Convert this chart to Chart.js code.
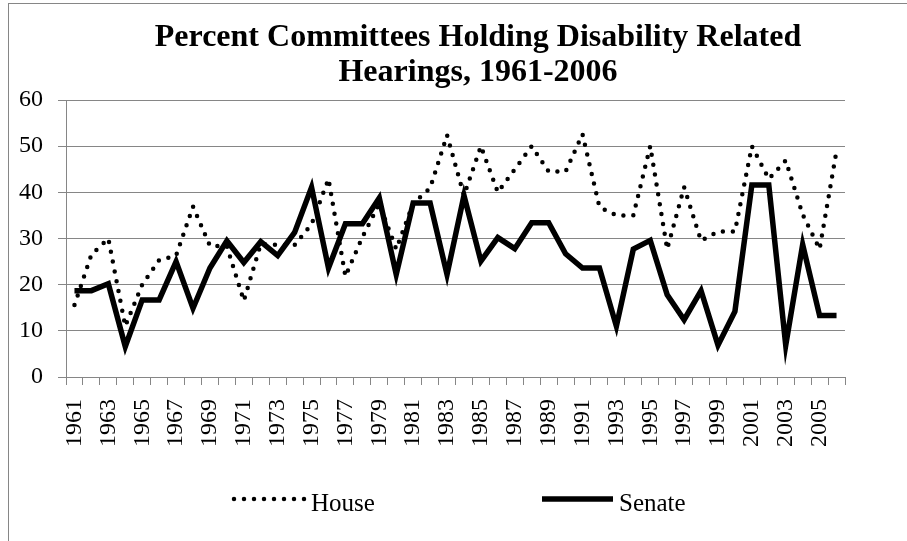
<!DOCTYPE html>
<html>
<head>
<meta charset="utf-8">
<script src="https://cdn.jsdelivr.net/npm/chart.js@4.4.1/dist/chart.umd.min.js"></script>
<style>
  body { margin: 0; background: #fff; }
</style>
</head>
<body>
<canvas id="hearingsChart" width="907" height="541"></canvas>
<script>
// data
var years = ['1961', '1962', '1963', '1964', '1965', '1966', '1967', '1968', '1969', '1970',
             '1971', '1972', '1973', '1974', '1975', '1976', '1977', '1978', '1979', '1980',
             '1981', '1982', '1983', '1984', '1985', '1986', '1987', '1988', '1989', '1990',
             '1991', '1992', '1993', '1994', '1995', '1996', '1997', '1998', '1999', '2000',
             '2001', '2002', '2003', '2004', '2005', '2006'];

var house = [15.6, 26.5, 30, 11, 20, 25.3, 26.3, 36.9, 28.4, 28.3,
             16.5, 28.8, 28.6, 28.6, 33.1, 42.9, 21.8, 30.3, 37.5, 27.7,
             37.6, 40.9, 52.4, 39.3, 50, 40, 45, 50, 44.5, 44.5,
             52.6, 36.8, 35, 35, 50, 27.7, 41.1, 29.5, 31.5, 31.5,
             50, 42.9, 46.9, 35.2, 27.7, 49];

var senate = [18.7, 18.7, 20.2, 6.6, 16.7, 16.7, 25, 14.9, 23.6, 29.5,
              24.8, 29.3, 26.3, 31.3, 41.1, 23.6, 33.2, 33.2, 38.8, 22.2,
              37.7, 37.7, 22.2, 39.3, 25.1, 30.2, 27.8, 33.4, 33.4, 26.7,
              23.6, 23.6, 11, 27.7, 29.6, 17.8, 12.4, 18.7, 6.9, 14.2,
              41.6, 41.6, 6.9, 28.7, 13.3, 13.3];

var titleLines = ['Percent Committees Holding Disability Related', 'Hearings, 1961-2006'];

var yMin = 0;
var yMax = 60;
var yStep = 10;

var serif = '"Liberation Serif", "Times New Roman", serif';
var gridGray = '#868686';

// white page with the grey frame of the chart box
var frame = {
    id: 'frame',
    beforeDraw: function(chart) {
        var ctx = chart.ctx;
        ctx.save();
        ctx.fillStyle = '#fff';
        ctx.fillRect(0, 0, chart.width, chart.height);
        ctx.strokeStyle = gridGray;
        ctx.lineWidth = 1;
        ctx.strokeRect(8.5, 3.5, 1000, 1000);
        ctx.restore();
    }
};

// title is centred a bit right of the canvas centre, like in Excel
var excelTitle = {
    id: 'excelTitle',
    afterDraw: function(chart) {
        var ctx = chart.ctx;
        ctx.save();
        ctx.fillStyle = '#000';
        ctx.font = 'bold 32px ' + serif;
        ctx.textAlign = 'center';
        ctx.textBaseline = 'alphabetic';
        ctx.fillText(titleLines[0], 478, 46);
        ctx.fillText(titleLines[1], 478, 81);
        ctx.restore();
    }
};

// legend drawn by hand so the two items sit where Excel put them
var lineLegend = {
    id: 'lineLegend',
    afterDraw: function(chart) {
        var ctx = chart.ctx;
        var starts = [234, 542];
        var y = 499;
        ctx.save();
        chart.data.datasets.forEach(function(ds, i) {
            var x = starts[i];
            ctx.beginPath();
            ctx.strokeStyle = ds.borderColor;
            ctx.lineWidth = ds.borderWidth;
            ctx.lineCap = ds.borderCapStyle || 'butt';
            ctx.setLineDash(ds.borderDash || []);
            ctx.moveTo(x, y);
            ctx.lineTo(x + 71, y);
            ctx.stroke();
            ctx.setLineDash([]);
            ctx.fillStyle = '#000';
            ctx.font = '25px ' + serif;
            ctx.textBaseline = 'alphabetic';
            ctx.fillText(ds.label, x + 77, 511);
        });
        ctx.restore();
    }
};

var ctx = document.getElementById('hearingsChart').getContext('2d');
var hearingsChart = new Chart(ctx, {
    type: 'line',
    data: {
        labels: years,
        datasets: [{
            label: 'House',
            data: house,
            borderColor: '#000',
            borderWidth: 4.5,
            borderDash: [0, 10],
            borderCapStyle: 'round',
            pointRadius: 0,
            tension: 0,
            order: 1
        },
        {
            label: 'Senate',
            data: senate,
            borderColor: '#000',
            borderWidth: 5.5,
            borderJoinStyle: 'miter',
            pointRadius: 0,
            tension: 0,
            order: 0
        }]
    },
    options: {
        responsive: false,
        animation: false,
        layout: {
            padding: { left: 4, right: 62, top: 100, bottom: 80 }
        },
        plugins: {
            legend: { display: false },
            tooltip: { enabled: false },
            title: { display: false }
        },
        scales: {
            x: {
                offset: true,
                grid: {
                    offset: true,
                    drawOnChartArea: false,
                    drawTicks: true,
                    tickLength: 8,
                    color: gridGray
                },
                border: { color: gridGray },
                ticks: {
                    autoSkip: false,
                    minRotation: 90,
                    maxRotation: 90,
                    padding: 14,
                    color: '#000',
                    font: { family: serif, size: 24 },
                    callback: function(value, index) {
                        // every second year is labelled
                        return index % 2 === 0 ? this.getLabelForValue(value) : '';
                    }
                }
            },
            y: {
                min: yMin,
                max: yMax,
                grid: {
                    color: gridGray,
                    tickLength: 8
                },
                border: { color: gridGray },
                ticks: {
                    stepSize: yStep,
                    padding: 15,
                    color: '#000',
                    font: { family: serif, size: 24 }
                }
            }
        }
    },
    plugins: [frame, excelTitle, lineLegend]
});
</script>
</body>
</html>
